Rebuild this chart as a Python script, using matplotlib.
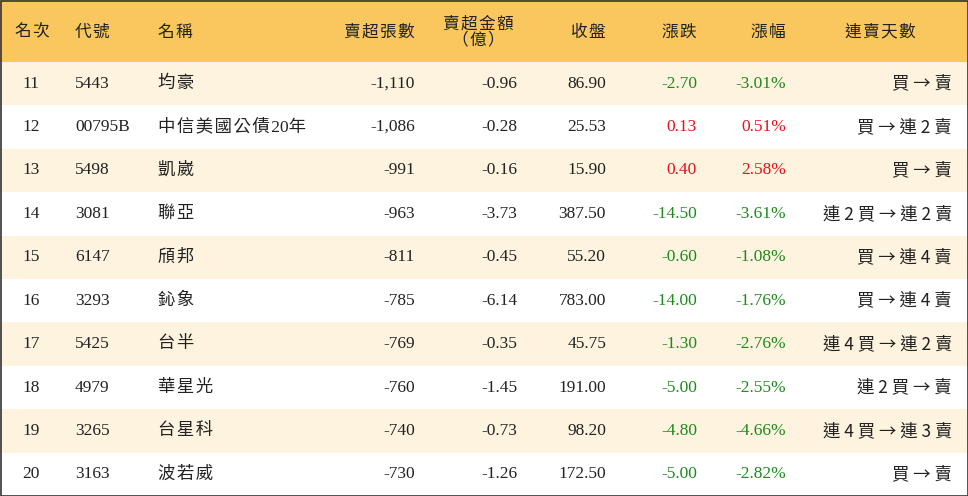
import matplotlib
matplotlib.use("Agg")
import matplotlib.pyplot as plt
from matplotlib.patches import Rectangle

ranks = [11, 12, 13, 14, 15, 16, 17, 18, 19, 20]
codes = ["5443", "00795B", "5498", "3081", "6147", "3293", "5425", "4979", "3265", "3163"]
names = ["均豪", "中信美國公債20年", "凱崴", "聯亞", "頎邦", "鈊象", "台半", "華星光", "台星科", "波若威"]
net_sell_lots = [-1110, -1086, -991, -963, -811, -785, -769, -760, -740, -730]
net_sell_amt = [-0.96, -0.28, -0.16, -3.73, -0.45, -6.14, -0.35, -1.45, -0.73, -1.26]
close = [86.90, 25.53, 15.90, 387.50, 55.20, 783.00, 45.75, 191.00, 98.20, 172.50]
change = [-2.70, 0.13, 0.40, -14.50, -0.60, -14.00, -1.30, -5.00, -4.80, -5.00]
pct = [-3.01, 0.51, 2.58, -3.61, -1.08, -1.76, -2.76, -2.55, -4.66, -2.82]
streak = ["買 → 賣", "買 → 連 2 賣", "買 → 賣", "連 2 買 → 連 2 賣", "買 → 連 4 賣",
          "買 → 連 4 賣", "連 4 買 → 連 2 賣", "連 2 買 → 賣", "連 4 買 → 連 3 賣", "買 → 賣"]
headers = ["名次", "代號", "名稱", "賣超張數", "賣超金額\n（億）", "收盤", "漲跌", "漲幅", "連賣天數"]

W, H = 968, 496
fig = plt.figure(figsize=(W / 100, H / 100), dpi=100)
ax = fig.add_axes([0, 0, 1, 1])
ax.set_xlim(0, W)
ax.set_ylim(H, 0)
ax.axis("off")

FONT = ["Liberation Serif", "Noto Sans CJK TC"]
CJK = ["Noto Sans CJK TC", "Liberation Serif"]
fs = 12.5
header_h = 62
row_h = (H - header_h) / len(ranks)


def spaced(t):
    # light letter spacing for CJK characters
    out = ""
    for ch in t:
        out += ch
        if ord(ch) > 0x2E80:
            out += "\u200a"
    return out.rstrip("\u200a")


ax.add_patch(Rectangle((0, 0), W, header_h, color="#F9C75E", lw=0))
for i in range(len(ranks)):
    y0 = header_h + i * row_h
    c = "#FDF3DE" if i % 2 == 0 else "white"
    ax.add_patch(Rectangle((0, y0), W, row_h, color=c, lw=0))
ax.add_patch(Rectangle((0.5, 0.5), W - 1, H - 1, fill=False, ec="#333333", lw=1.2))

hx = [(15, "left"), (75, "left"), (158, "left"), (415, "right"), (478, "center"),
      (606, "right"), (697, "right"), (786, "right"), (880, "center")]
for (x, ha), t in zip(hx, headers):
    ax.text(x, 32, "\n".join(spaced(s) for s in t.split("\n")), ha=ha, va="center",
            fontsize=fs - 0.5, family=CJK, color="#222222", linespacing=0.95)

green, red, black = "#1E8A1E", "#E8101A", "#222222"
for i in range(len(ranks)):
    y = header_h + (i + 0.5) * row_h
    col = green if change[i] < 0 else red
    cells = [
        (22, "left", str(ranks[i]), black, FONT),
        (75, "left", codes[i], black, FONT),
        (158, "left", spaced(names[i]), black, FONT),
        (415, "right", f"{net_sell_lots[i]:,}", black, FONT),
        (517, "right", f"{net_sell_amt[i]:.2f}", black, FONT),
        (606, "right", f"{close[i]:.2f}", black, FONT),
        (697, "right", f"{change[i]:.2f}", col, FONT),
        (786, "right", f"{pct[i]:.2f}%", col, FONT),
        (952, "right", streak[i], black, CJK),
    ]
    for x, ha, t, c, f in cells:
        ax.text(x, y, t, ha=ha, va="center", fontsize=fs, family=f, color=c)

fig.savefig("out.png", dpi=100)
